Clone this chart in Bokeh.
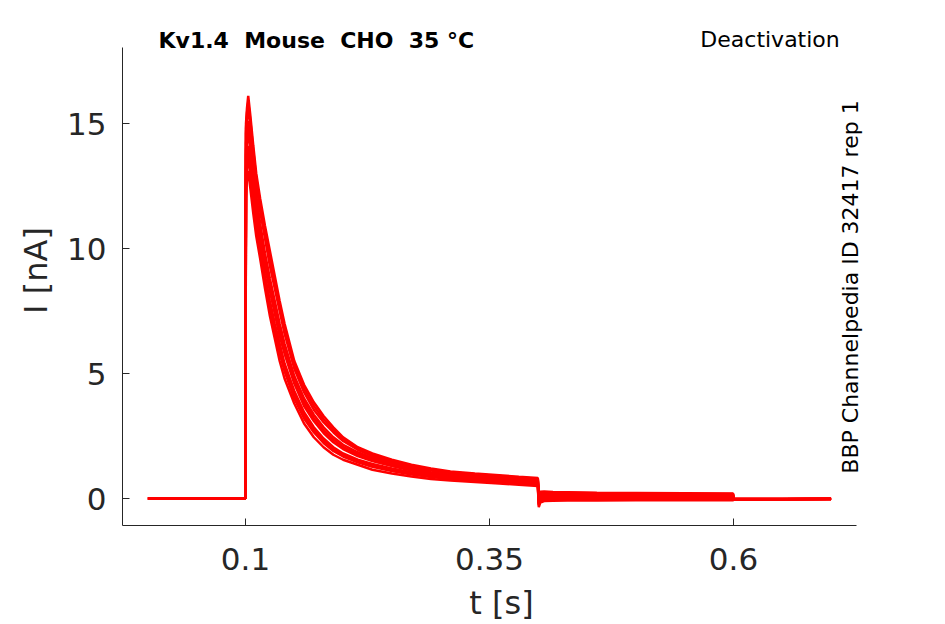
from bokeh.plotting import figure
from bokeh.models import Range1d, Label, FixedTicker
from bokeh.embed import file_html
from bokeh.resources import INLINE
import math

# ---- data ----
t_s = [0.0, 0.0998, 0.1005, 0.1015, 0.1028, 0.105, 0.108, 0.111, 0.115, 0.12,
       0.125, 0.13, 0.135, 0.14, 0.15, 0.16, 0.17, 0.18, 0.19, 0.2,
       0.215, 0.23, 0.25, 0.27, 0.29, 0.31, 0.335, 0.36, 0.38, 0.3995,
       0.4005, 0.402, 0.406, 0.415, 0.43, 0.46, 0.5, 0.55, 0.5995, 0.6005,
       0.65, 0.7]

sweep_1 = [0.0, 0.0, 15.0, 15.6, 16.1, 15.3, 14.1, 13.0, 12.0, 10.9,
           9.9, 8.9, 7.9, 7.0, 5.5, 4.55, 3.85, 3.3, 2.85, 2.45,
           2.05, 1.8, 1.55, 1.35, 1.2, 1.08, 1.0, 0.93, 0.87, 0.82,
           0.15, 0.27, 0.28, 0.26, 0.25, 0.23, 0.22, 0.21, 0.2, -0.02,
           -0.02, -0.01]
sweep_2 = [0.0, 0.0, 14.8, 15.4, 15.85, 15.1, 13.9, 12.8, 11.75, 10.65,
           9.6, 8.65, 7.7, 6.8, 5.35, 4.4, 3.7, 3.17, 2.75, 2.38,
           2.0, 1.75, 1.5, 1.31, 1.16, 1.05, 0.97, 0.9, 0.84, 0.79,
           0.1, 0.23, 0.25, 0.24, 0.23, 0.21, 0.2, 0.19, 0.18, -0.02,
           -0.02, -0.01]
sweep_3 = [0.0, 0.0, 14.6, 15.2, 15.6, 14.9, 13.7, 12.6, 11.5, 10.4,
           9.3, 8.4, 7.5, 6.6, 5.2, 4.25, 3.55, 3.05, 2.65, 2.3,
           1.95, 1.7, 1.45, 1.28, 1.12, 1.02, 0.94, 0.87, 0.8, 0.76,
           0.05, 0.2, 0.22, 0.21, 0.2, 0.19, 0.18, 0.17, 0.16, -0.01,
           -0.02, -0.01]
sweep_4 = [0.0, 0.0, 14.2, 14.8, 15.1, 14.4, 13.2, 12.1, 11.0, 9.8,
           8.8, 7.9, 7.0, 6.2, 4.9, 4.0, 3.35, 2.85, 2.45, 2.15,
           1.85, 1.62, 1.4, 1.22, 1.05, 0.95, 0.88, 0.82, 0.76, 0.72,
           0.0, 0.12, 0.16, 0.15, 0.14, 0.14, 0.13, 0.12, 0.12, -0.02,
           -0.02, -0.02]
sweep_5 = [0.0, 0.0, 13.9, 14.5, 14.85, 14.15, 12.95, 11.85, 10.75, 9.55,
           8.55, 7.65, 6.75, 6.0, 4.75, 3.85, 3.22, 2.73, 2.35, 2.06,
           1.78, 1.56, 1.35, 1.17, 1.02, 0.93, 0.85, 0.79, 0.73, 0.69,
           -0.05, 0.08, 0.13, 0.12, 0.12, 0.11, 0.1, 0.1, 0.1, -0.02,
           -0.02, -0.02]
sweep_6 = [0.0, 0.0, 13.7, 14.3, 14.6, 13.9, 12.7, 11.6, 10.5, 9.3,
           8.3, 7.4, 6.5, 5.8, 4.6, 3.7, 3.1, 2.62, 2.25, 1.98,
           1.7, 1.5, 1.3, 1.12, 0.98, 0.9, 0.82, 0.76, 0.7, 0.66,
           -0.1, 0.05, 0.1, 0.1, 0.09, 0.09, 0.08, 0.08, 0.08, -0.03,
           -0.03, -0.02]
sweep_7 = [0.0, 0.0, 13.2, 13.8, 14.1, 13.4, 12.3, 11.2, 10.1, 8.9,
           7.9, 7.0, 6.2, 5.4, 4.3, 3.45, 2.85, 2.4, 2.05, 1.8,
           1.55, 1.38, 1.2, 1.05, 0.92, 0.84, 0.76, 0.7, 0.65, 0.6,
           -0.2, -0.02, 0.04, 0.04, 0.03, 0.03, 0.03, 0.03, 0.02, -0.04,
           -0.03, -0.02]
sweep_8 = [0.0, 0.0, 12.9, 13.55, 13.85, 13.15, 12.05, 11.0, 9.95, 8.75,
           7.75, 6.85, 6.0, 5.25, 4.15, 3.32, 2.75, 2.31, 1.98, 1.74,
           1.5, 1.32, 1.15, 1.0, 0.89, 0.81, 0.73, 0.67, 0.62, 0.57,
           -0.24, -0.05, 0.0, 0.01, 0.0, 0.0, 0.0, 0.0, -0.01, -0.04,
           -0.03, -0.02]
sweep_9 = [0.0, 0.0, 12.6, 13.3, 13.6, 12.9, 11.8, 10.8, 9.8, 8.6,
           7.6, 6.7, 5.8, 5.1, 4.0, 3.2, 2.65, 2.22, 1.9, 1.68,
           1.45, 1.27, 1.1, 0.96, 0.86, 0.78, 0.7, 0.65, 0.6, 0.55,
           -0.28, -0.08, -0.03, -0.02, -0.02, -0.02, -0.02, -0.03, -0.03, -0.04,
           -0.03, -0.02]
sweep_10 = [0.0, 0.0, 12.0, 12.8, 13.1, 12.4, 11.4, 10.5, 9.6, 8.4,
            7.3, 6.4, 5.5, 4.8, 3.8, 3.0, 2.45, 2.05, 1.75, 1.55,
            1.35, 1.15, 1.0, 0.88, 0.78, 0.72, 0.66, 0.6, 0.55, 0.5,
            -0.35, -0.16, -0.1, -0.09, -0.08, -0.08, -0.07, -0.07, -0.07, -0.04,
            -0.03, -0.02]

sweeps = [sweep_1, sweep_2, sweep_3, sweep_4, sweep_5,
          sweep_6, sweep_7, sweep_8, sweep_9, sweep_10]

x_ticks = [0.1, 0.35, 0.6]
x_tick_labels = ["0.1", "0.35", "0.6"]
y_ticks = [0, 5, 10, 15]

NB2 = "\u00a0\u00a0"
title_text = "Kv1.4" + NB2 + "Mouse" + NB2 + "CHO" + NB2 + "35\u00a0\u00b0C"
protocol_text = "Deactivation"
source_text = "BBP Channelpedia ID 32417 rep 1"

# ---- figure ----
FONT = "DejaVu Sans"
AX = "#262626"

p = figure(width=929, height=624,
           x_range=Range1d(-0.02602, 0.7506), y_range=Range1d(-1.08, 19.32),
           output_backend="svg", toolbar_location=None,
           min_border_left=122, min_border_right=49,
           min_border_top=15, min_border_bottom=99)
p.outline_line_color = None
p.xgrid.visible = False
p.ygrid.visible = False
p.background_fill_color = "white"
p.border_fill_color = "white"

for s in sweeps:
    p.line(t_s, s, line_color="#ff0000", line_width=2.5)

for ax in (p.xaxis[0], p.yaxis[0]):
    ax.axis_line_color = AX
    ax.axis_line_width = 1
    ax.major_tick_line_color = AX
    ax.major_tick_in = 7
    ax.major_tick_out = 0
    ax.minor_tick_line_color = None
    ax.major_label_text_font = FONT
    ax.major_label_text_font_size = "31px"
    ax.major_label_text_color = AX
    ax.axis_label_text_font = FONT
    ax.axis_label_text_font_size = "32px"
    ax.axis_label_text_font_style = "normal"
    ax.axis_label_text_color = AX

p.xaxis.bounds = (-0.026, 0.726)
p.yaxis.bounds = (-1.08, 18.04)
p.xaxis.ticker = FixedTicker(ticks=x_ticks)
p.xaxis.major_label_overrides = {k: v for k, v in zip(x_ticks, x_tick_labels)}
p.yaxis.ticker = FixedTicker(ticks=y_ticks)
p.xaxis.axis_label = "t [s]"
p.yaxis.axis_label = "I [nA]"
p.xaxis.major_label_standoff = 22
p.yaxis.major_label_standoff = 16
p.xaxis.axis_label_standoff = 11
p.yaxis.axis_label_standoff = 9

p.add_layout(Label(x=0.0109, y=18.32, text=title_text, text_font=FONT,
                   text_font_size="22px", text_font_style="bold",
                   text_color="black", text_baseline="middle", text_align="left"))
p.add_layout(Label(x=0.566, y=18.36, text=protocol_text, text_font=FONT,
                   text_font_size="22px", text_color="black",
                   text_baseline="middle", text_align="left"))
p.add_layout(Label(x=0.7199, y=8.46, text=source_text, text_font=FONT,
                   text_font_size="22px", text_color="black", angle=math.pi / 2,
                   text_baseline="middle", text_align="center"))

open("out.html", "w").write(file_html(p, INLINE))
